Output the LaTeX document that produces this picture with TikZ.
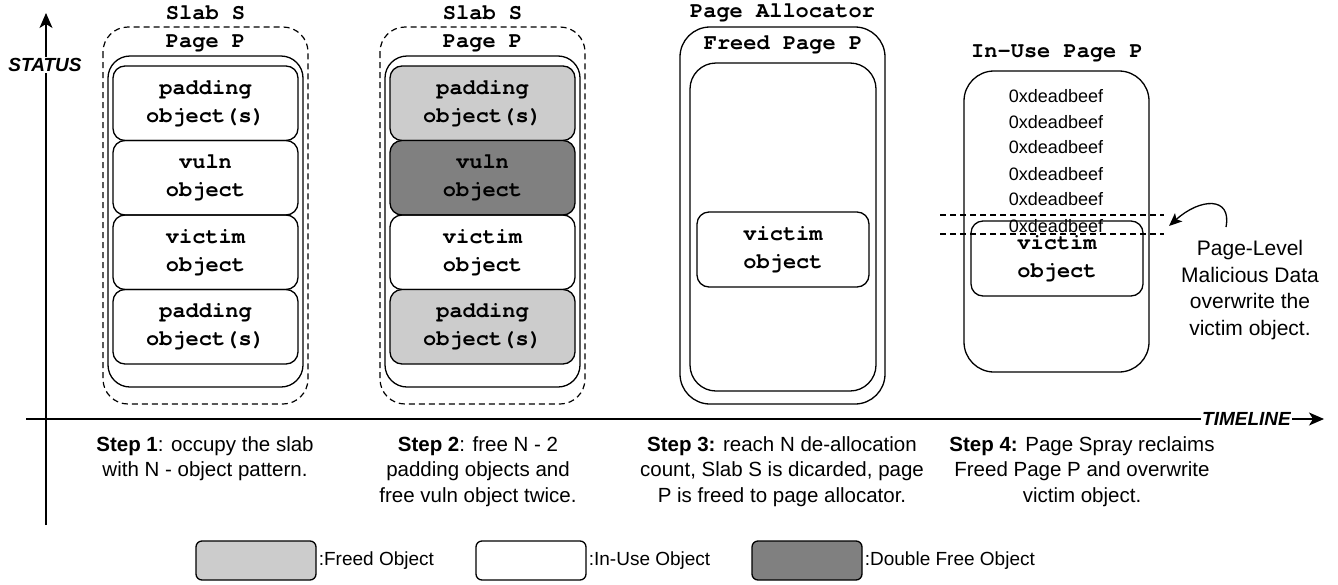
\documentclass[tikz,border=0pt]{standalone}
\usepackage{fontspec}
\setmainfont{Liberation Sans}
\setmonofont{TeX Gyre Cursor}
\usetikzlibrary{arrows.meta}

\definecolor{freedgray}{HTML}{CCCCCC}
\definecolor{dfreegray}{HTML}{808080}

\newcommand{\objfont}{\fontsize{22}{28}\selectfont\ttfamily\bfseries}
\newcommand{\stepfont}{\fontsize{20.5}{25.5}\selectfont}

\tikzset{
  obj/.style={draw, rounded corners=12pt, line width=1.3pt, minimum width=185pt,
    minimum height=74.5pt, align=center, font=\objfont, inner sep=0pt},
  freed/.style={obj, fill=freedgray},
  dfree/.style={obj, fill=dfreegray},
  title/.style={font=\objfont, inner sep=0pt},
  longdash/.style={dash pattern=on 6pt off 4pt},
  slabbox/.style={draw, longdash, line width=1.2pt, rounded corners=25pt},
  pagebox/.style={draw, line width=1.3pt, rounded corners=22pt},
  axis/.style={line width=1.3pt},
  axislabel/.style={font=\fontsize{19}{19}\selectfont\bfseries\itshape, fill=white, inner sep=1pt},
  stepnote/.style={font=\stepfont, align=center, inner sep=0pt, anchor=north},
  beef/.style={font=\fontsize{18}{18}\selectfont, inner sep=0pt},
  legbox/.style={draw, line width=1.3pt, rounded corners=6pt, minimum height=39pt, inner sep=0pt},
  legtext/.style={font=\fontsize{19}{19}\selectfont, anchor=west, inner sep=2pt}
}

\begin{document}
\begin{tikzpicture}[x=1pt,y=-1pt]
\useasboundingbox (0,0) rectangle (1338,584);

% axes
\coordinate (st0) at (46,525);
\coordinate (st1) at (46,13);
\draw[axis,-{Stealth[length=15pt,width=13pt,inset=4pt]}] (st0) -- (st1);
\node[axislabel] (status) at (45,65) {STATUS};
\coordinate (tl0) at (26,419);
\coordinate (tl1) at (1324,419);
\node[axislabel, anchor=east, fill=none] (timeline) at (1292,419) {TIMELINE};
\draw[axis] (tl0) -- (timeline.west);
\draw[axis,-{Stealth[length=15pt,width=13pt,inset=4pt]}] (timeline.east) -- (tl1);

% step 1
\draw[slabbox] (103,27) rectangle (308,404);
\draw[pagebox] (108,56) rectangle (303,387);
\node[title] (slab1) at (205.5,13) {Slab S};
\node[title] (page1) at (205.5,43) {Page P};
\node[obj] (padA1) at (205.5,103.25) {padding\\object(s)};
\node[obj] (vuln1) at (205.5,177.75) {vuln\\object};
\node[obj] (victim1) at (205.5,252.25) {victim\\object};
\node[obj] (padB1) at (205.5,326.75) {padding\\object(s)};

% step 2
\draw[slabbox] (380,27) rectangle (585,404);
\draw[pagebox] (385,56) rectangle (580,387);
\node[title] (slab2) at (482.5,13) {Slab S};
\node[title] (page2) at (482.5,43) {Page P};
\node[freed] (padA2) at (482.5,103.25) {padding\\object(s)};
\node[dfree] (vuln2) at (482.5,177.75) {vuln\\object};
\node[obj] (victim2) at (482.5,252.25) {victim\\object};
\node[freed] (padB2) at (482.5,326.75) {padding\\object(s)};

% step 3
\draw[pagebox, rounded corners=30pt] (680,27) rectangle (885,404);
\draw[pagebox, rounded corners=26pt] (690,63) rectangle (876,391);
\node[title] (alloc) at (782.5,13) {Page Allocator};
\node[title] (page3) at (783,45) {Freed Page P};
\node[obj, minimum width=172pt, minimum height=75pt] (victim3) at (783,249.5) {victim\\object};

% step 4
\node[title] (page4) at (1057,53) {In-Use Page P};
\draw[pagebox, rounded corners=30pt] (964,71) rectangle (1149,372);
\node[obj, minimum width=172pt, minimum height=75pt] (victim4) at (1057,258.5) {victim\\object};
\foreach \y [count=\i] in {96,122,147,174,199,226}
  \node[beef] (beef\i) at (1056,\y) {0xdeadbeef};
\coordinate (cutA0) at (940,215);
\coordinate (cutA1) at (1164,215);
\coordinate (cutB0) at (940,234);
\coordinate (cutB1) at (1164,234);
\draw[longdash, line width=1.2pt] (cutA0) -- (cutA1);
\draw[longdash, line width=1.2pt] (cutB0) -- (cutB1);
\coordinate (ann0) at (1226,227);
\coordinate (ann1) at (1169,226);
\draw[line width=1.3pt, -{Stealth[length=13pt,width=11pt,inset=3pt]}] (ann0) .. controls (1232,196) and (1200,198) .. (ann1);
\node[font=\fontsize{21}{26.5}\selectfont, align=center, inner sep=0pt] (note) at (1250,290)
  {Page-Level\\Malicious Data\\overwrite the\\victim object.};

% steps
\node[stepnote] (step1) at (205,436) {\textbf{Step 1}: occupy the slab\\with N - object pattern.};
\node[stepnote] (step2) at (478,436) {\textbf{Step 2}: free N - 2\\padding objects and\\free vuln object twice.};
\node[stepnote] (step3) at (782,436) {\textbf{Step 3:} reach N de-allocation\\count, Slab S is dicarded, page\\P is freed to page allocator.};
\node[stepnote] (step4) at (1082,436) {\textbf{Step 4:} Page Spray reclaims\\Freed Page P and overwrite\\victim object.};

% legend
\node[legbox, fill=freedgray, minimum width=120pt] (legfreed) at (256,560.5) {};
\node[legtext] (legfreedt) at (legfreed.east) {:Freed Object};
\node[legbox, fill=white, minimum width=110pt] (leguse) at (531,560.5) {};
\node[legtext] (leguset) at (leguse.east) {:In-Use Object};
\node[legbox, fill=dfreegray, minimum width=110pt] (legdfree) at (807,560.5) {};
\node[legtext] (legdfreet) at (legdfree.east) {:Double Free Object};
\end{tikzpicture}
\end{document}
